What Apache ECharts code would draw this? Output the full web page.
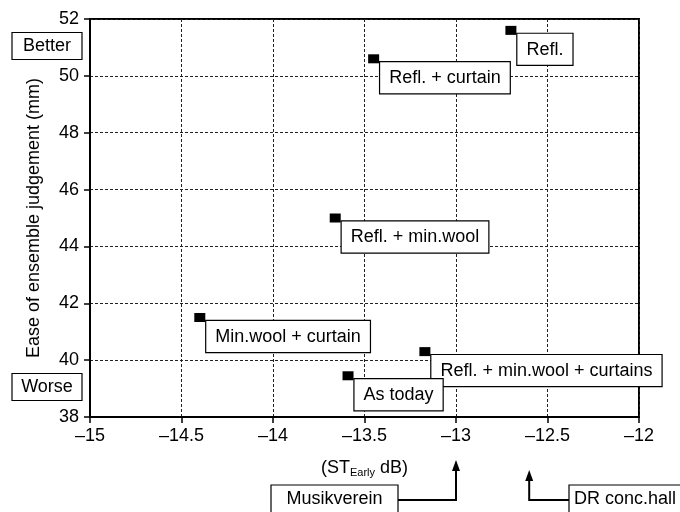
<!DOCTYPE html>
<html>
<head>
<meta charset="utf-8">
<script src="https://cdn.jsdelivr.net/npm/echarts/dist/echarts.min.js"></script>
<style>
  html, body { margin: 0; padding: 0; background: #fff; }
  #chart { width: 680px; height: 512px; }
</style>
</head>
<body>
<div id="chart"></div>
<script>
// room treatments: early support (dB) vs. ease of ensemble judgement (mm)
var treatments = ['Refl.', 'Refl. + curtain', 'Refl. + min.wool', 'Min.wool + curtain', 'Refl. + min.wool + curtains', 'As today']
var stEarly = [-12.70, -13.45, -13.66, -14.40, -13.17, -13.59]
var ensemble = [51.6, 50.6, 45.0, 41.5, 40.3, 39.45]
// reference halls marked under the x axis
var halls = ['Musikverein', 'DR conc.hall']
var hallST = [-13.0, -12.6]

var FONT = '"Liberation Sans", Arial, Helvetica, sans-serif'

function dash(v) {
  return String(v).replace('-', '\u2013')
}

var chart = echarts.init(document.getElementById('chart'))

chart.setOption({
  animation: false,
  textStyle: { fontFamily: FONT },
  grid: {
    left: 90,
    right: 41,
    top: 19,
    bottom: 95,
    show: true,
    borderColor: '#000',
    borderWidth: 2
  },
  xAxis: {
    type: 'value',
    min: -15,
    max: -12,
    interval: 0.5,
    name: '(ST{sub|Early} dB)',
    nameLocation: 'middle',
    nameGap: 42,
    nameTextStyle: {
      color: '#000',
      fontSize: 18,
      fontFamily: FONT,
      rich: {
        sub: { fontSize: 11, color: '#000', fontFamily: FONT, verticalAlign: 'bottom', padding: [8, 0, 0, 0] }
      }
    },
    axisLine: { show: true, onZero: false, lineStyle: { color: '#000', width: 2 } },
    axisTick: { show: true, length: 6, lineStyle: { color: '#000', width: 1.5 } },
    axisLabel: { color: '#000', fontSize: 18, margin: 10, formatter: dash },
    splitLine: { show: true, lineStyle: { color: '#222', width: 1, type: [3, 2] } }
  },
  yAxis: {
    type: 'value',
    min: 38,
    max: 52,
    interval: 2,
    name: 'Ease of ensemble judgement (mm)',
    nameLocation: 'middle',
    nameGap: 47,
    nameTextStyle: { color: '#000', fontSize: 18, fontFamily: FONT },
    axisLine: { show: true, onZero: false, lineStyle: { color: '#000', width: 2 } },
    axisTick: { show: true, length: 6, lineStyle: { color: '#000', width: 1.5 } },
    axisLabel: { color: '#000', fontSize: 18, margin: 11 },
    splitLine: { show: true, lineStyle: { color: '#222', width: 1, type: [3, 2] } }
  },
  series: [{
    type: 'scatter',
    symbol: 'rect',
    symbolSize: [11, 9],
    itemStyle: { color: '#000', opacity: 1 },
    data: stEarly.map(function(x, i) { return [x, ensemble[i]] }),
    label: {
      show: true,
      formatter: function(p) { return treatments[p.dataIndex] },
      position: [12, 8],
      align: 'left',
      verticalAlign: 'top',
      color: '#000',
      opacity: 1,
      textBorderWidth: 0,
      fontSize: 18,
      lineHeight: 20,
      fontFamily: FONT,
      backgroundColor: '#fff',
      borderColor: '#000',
      borderWidth: 1.2,
      padding: [6, 9, 5, 9]
    },
    z: 5
  }]
})

// side boxes and hall arrows
function sideBox(text, cy) {
  return [{
    type: 'rect',
    shape: { x: 12, y: cy - 13.5, width: 70, height: 27 },
    style: { fill: '#fff', stroke: '#000', lineWidth: 1.2 }
  }, {
    type: 'text',
    x: 47,
    y: cy,
    style: { text: text, font: '18px ' + FONT, fill: '#000', align: 'center', verticalAlign: 'middle' }
  }]
}

var graphics = [].concat(sideBox('Better', 46), sideBox('Worse', 387))

var boxY = 485
var lineY = 500
var tipY = [460, 470]
halls.forEach(function(name, i) {
  var px = chart.convertToPixel({ xAxisIndex: 0 }, hallST[i])
  var boxX = i === 0 ? 271 : 569
  var boxW = i === 0 ? 127 : 130
  var edge = i === 0 ? boxX + boxW : boxX
  graphics.push({
    type: 'rect',
    shape: { x: boxX, y: boxY, width: boxW, height: 40 },
    style: { fill: '#fff', stroke: '#000', lineWidth: 1.2 }
  })
  graphics.push({
    type: 'text',
    x: i === 0 ? boxX + boxW / 2 : boxX + 5,
    y: 499,
    style: { text: name, font: '18px ' + FONT, fill: '#000', align: i === 0 ? 'center' : 'left', verticalAlign: 'middle' }
  })
  graphics.push({
    type: 'polyline',
    shape: { points: [[edge, lineY], [px, lineY], [px, tipY[i] + 9]] },
    style: { stroke: '#000', lineWidth: 2, fill: null }
  })
  graphics.push({
    type: 'polygon',
    shape: { points: [[px, tipY[i]], [px - 4, tipY[i] + 11], [px + 4, tipY[i] + 11]] },
    style: { fill: '#000' }
  })
})

chart.setOption({ graphic: graphics })
</script>
</body>
</html>
